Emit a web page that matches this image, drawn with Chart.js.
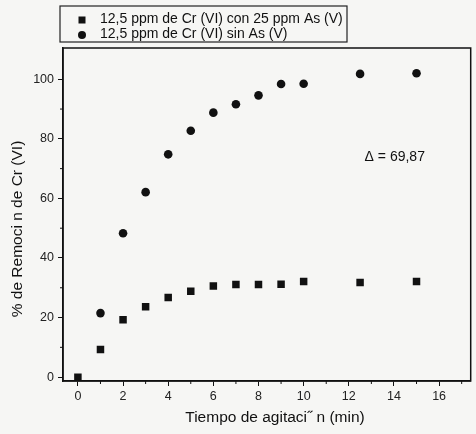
<!DOCTYPE html>
<html>
<head>
<meta charset="utf-8">
<script src="https://cdn.jsdelivr.net/npm/chart.js@4.4.1/dist/chart.umd.min.js"></script>
<style>
  html, body { margin: 0; padding: 0; background: #f6f6f4; }
  #wrap { width: 476px; height: 434px; }
</style>
</head>
<body>
<div id="wrap"><canvas id="grafico" width="476" height="434"></canvas></div>
<script>
// Tiempo de agitación (min)
const tiempos = [0, 1, 2, 3, 4, 5, 6, 7, 8, 9, 10, 12.5, 15];
// % de remoción con As (V)
const remocionConAs = [0, 9.3, 19.3, 23.6, 26.7, 28.8, 30.6, 31.1, 31.1, 31.2, 32.1, 31.8, 32.13];
// % de remoción sin As (V)
const remocionSinAs = [null, 21.5, 48.3, 62.1, 74.8, 82.7, 88.8, 91.6, 94.6, 98.4, 98.5, 101.8, 102.0];

const etiquetas = ['12,5 ppm de Cr (VI) con 25 ppm As (V)', '12,5 ppm de Cr (VI) sin As (V)'];
const ticksX = [0, 2, 4, 6, 8, 10, 12, 14, 16];
const ticksY = [0, 20, 40, 60, 80, 100];
const menoresX = [1, 3, 5, 7, 9, 11, 13, 15, 17];
const menoresY = [10, 30, 50, 70, 90];
const tituloX = 'Tiempo de agitaci\u02dd n (min)';
const tituloY = '% de Remoci n de Cr (VI)';
const textoDelta = '\u0394 = 69,87';
const posDelta = { x: 12.7, y: 73.9 };

const fuente = '"Liberation Sans", Arial, sans-serif';

function puntos(ys) {
    return tiempos.map((t, i) => ({ x: t, y: ys[i] })).filter(p => p.y !== null);
}

// Marco, ticks menores, títulos, leyenda y anotación
const extras = {
    id: 'extras',
    afterDraw(chart) {
        const ctx = chart.ctx;
        const area = chart.chartArea;
        const sx = chart.scales.x, sy = chart.scales.y;
        ctx.save();
        ctx.strokeStyle = '#111';
        ctx.lineWidth = 1.5;
        ctx.strokeRect(area.left, area.top, area.right - area.left, area.bottom - area.top);

        ctx.lineWidth = 1;
        ctx.beginPath();
        menoresX.forEach(v => {
            const px = sx.getPixelForValue(v);
            ctx.moveTo(px, area.bottom);
            ctx.lineTo(px, area.bottom + 3);
        });
        menoresY.forEach(v => {
            const py = sy.getPixelForValue(v);
            ctx.moveTo(area.left, py);
            ctx.lineTo(area.left - 3, py);
        });
        ctx.stroke();

        // títulos de ejes
        ctx.fillStyle = '#111';
        ctx.font = '15.5px ' + fuente;
        ctx.textAlign = 'center';
        ctx.textBaseline = 'middle';
        ctx.fillText(tituloX, 275, 418);
        ctx.save();
        ctx.translate(18, 229);
        ctx.rotate(-Math.PI / 2);
        ctx.fillText(tituloY, 0, 0);
        ctx.restore();

        // leyenda
        ctx.fillStyle = '#f6f6f4';
        ctx.fillRect(60, 6, 287, 36);
        ctx.strokeStyle = '#222';
        ctx.lineWidth = 1.2;
        ctx.strokeRect(60, 6, 287, 36);
        ctx.font = '14px ' + fuente;
        ctx.textAlign = 'left';
        ctx.fillStyle = '#111';
        ctx.fillRect(82 - 3.5, 20 - 3.5, 7, 7);
        ctx.beginPath();
        ctx.arc(82, 35, 4, 0, Math.PI * 2);
        ctx.fill();
        ctx.fillText(chart.data.datasets[0].label, 100, 19);
        ctx.fillText(chart.data.datasets[1].label, 100, 34);

        // diferencia entre series
        ctx.font = '14px ' + fuente;
        ctx.fillText(textoDelta, sx.getPixelForValue(posDelta.x), sy.getPixelForValue(posDelta.y));
        ctx.restore();
    }
};

const ctx = document.getElementById('grafico').getContext('2d');
new Chart(ctx, {
    type: 'scatter',
    data: {
        datasets: [
            {
                label: etiquetas[0],
                data: puntos(remocionConAs),
                pointStyle: 'rect',
                pointRadius: 5.3,
                backgroundColor: '#111',
                borderColor: '#111',
                borderWidth: 0
            },
            {
                label: etiquetas[1],
                data: puntos(remocionSinAs),
                pointStyle: 'circle',
                pointRadius: 4.3,
                backgroundColor: '#111',
                borderColor: '#111',
                borderWidth: 0
            }
        ]
    },
    options: {
        responsive: false,
        animation: false,
        layout: { padding: { top: 48, right: 3, left: 0, bottom: 0 } },
        plugins: {
            legend: { display: false },
            tooltip: { enabled: false }
        },
        scales: {
            x: {
                type: 'linear',
                min: -0.66,
                max: 17.4,
                afterFit: s => { s.height = 53; },
                afterBuildTicks: s => { s.ticks = ticksX.map(v => ({ value: v })); },
                ticks: { color: '#222', padding: 3, font: { family: fuente, size: 12.5 } },
                grid: { drawOnChartArea: false, tickLength: 5, tickColor: '#111', tickWidth: 1 },
                border: { color: '#111', width: 1.5 }
            },
            y: {
                type: 'linear',
                min: -1.3,
                max: 110.5,
                afterFit: s => { s.width = 63; },
                afterBuildTicks: s => { s.ticks = ticksY.map(v => ({ value: v })); },
                ticks: { color: '#222', padding: 4, font: { family: fuente, size: 12.5 } },
                grid: { drawOnChartArea: false, tickLength: 5, tickColor: '#111', tickWidth: 1 },
                border: { color: '#111', width: 1.5 }
            }
        }
    },
    plugins: [extras]
});
</script>
</body>
</html>
